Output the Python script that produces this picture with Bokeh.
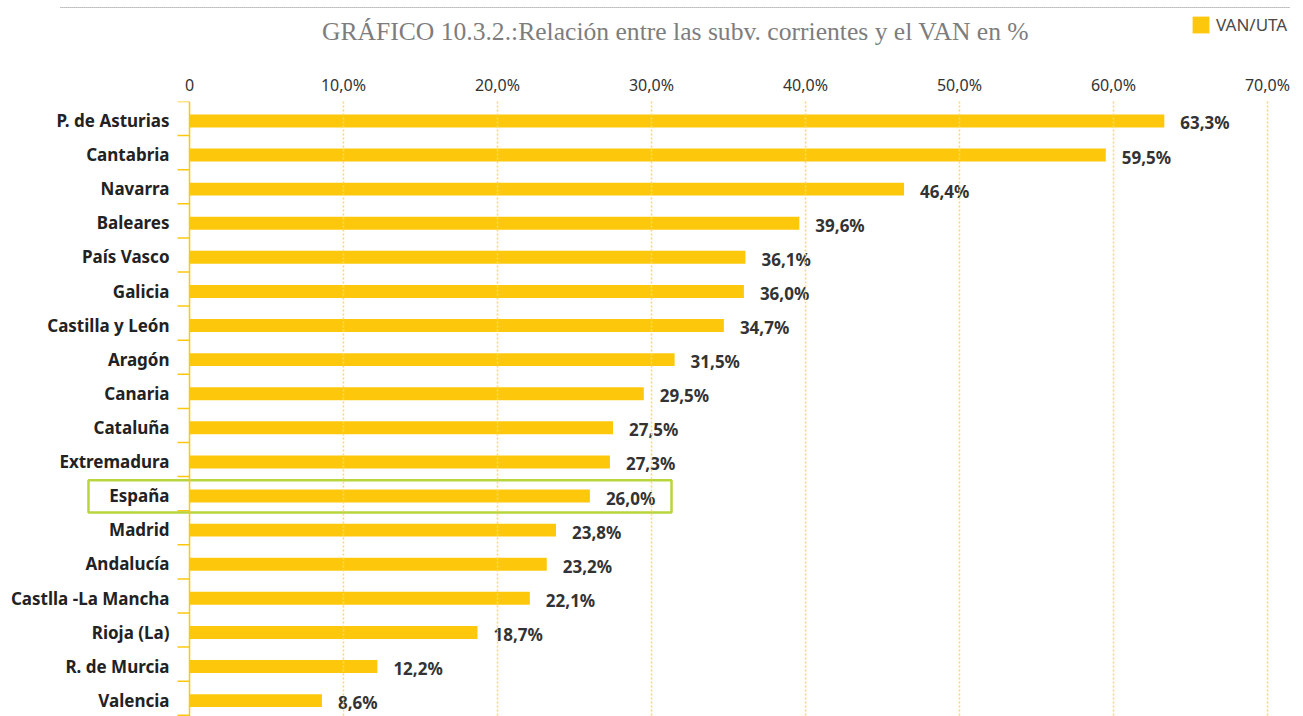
from bokeh.plotting import figure
from bokeh.models import (ColumnDataSource, Range1d, FixedTicker, Span,
                          Legend, LegendItem)
from bokeh.layouts import column
from bokeh.transform import dodge
from bokeh.core.properties import value
from bokeh.embed import file_html
from bokeh.resources import INLINE

# ---- data ----
regions = ["P. de Asturias", "Cantabria", "Navarra", "Baleares", "País Vasco",
           "Galicia", "Castilla y León", "Aragón", "Canaria", "Cataluña",
           "Extremadura", "España", "Madrid", "Andalucía", "Castlla -La Mancha",
           "Rioja (La)", "R. de Murcia", "Valencia"]
values = [63.3, 59.5, 46.4, 39.6, 36.1, 36.0, 34.7, 31.5, 29.5, 27.5,
          27.3, 26.0, 23.8, 23.2, 22.1, 18.7, 12.2, 8.6]
tick_values = [0, 10, 20, 30, 40, 50, 60, 70]
tick_labels = ["0", "10,0%", "20,0%", "30,0%", "40,0%", "50,0%", "60,0%", "70,0%"]
series_name = "VAN/UTA"
highlight = "España"
title_text = "GRÁFICO 10.3.2.:Relación entre las subv. corrientes y el VAN en %"

# ---- styles ----
BAR = "#fdc80c"
GRID = "#fbd95c"
BOX = "#b8d53b"
TXT = "#222222"
FONT = "Noto Sans"
W = 1303
HEAD_H = 60

idx = list(range(len(regions)))
labels = [f"{v:.1f}".replace(".", ",") + "%" for v in values]
src = ColumnDataSource(dict(idx=idx, region=regions, value=values, label=labels))

xr = Range1d(-12.273, 72.338)

# ---------- header: dotted rule, title, legend ----------
head = figure(width=W, height=HEAD_H, output_backend="svg", toolbar_location=None,
              x_range=xr, y_range=Range1d(HEAD_H, 0),
              x_axis_location=None, y_axis_location=None,
              min_border=0, min_border_left=0, min_border_right=0,
              min_border_top=0, min_border_bottom=0)
head.outline_line_color = None
head.xgrid.visible = False
head.ygrid.visible = False

head.segment(x0=-8.38, x1=71.49, y0=7, y1=7, line_color="#8a8a8a",
             line_dash="1 1", line_width=1)
head.text(x=[31.56], y=[31], text=[title_text], text_align="center",
          text_baseline="middle", text_font=value("Liberation Serif"),
          text_font_size="25.6px", text_color="#7d7d7d")

# legend entry for the series (renderer hidden in the header)
legend_r = head.hbar(y="idx", left=0, right="value", height=0.38, source=src,
                     fill_color=BAR, line_color=None, visible=False)
legend = Legend(items=[LegendItem(label=series_name, renderers=[legend_r])],
                location=(1190, 24), glyph_width=21, glyph_height=21,
                label_height=21, label_standoff=5, padding=0, margin=0,
                spacing=0, border_line_color=None, background_fill_alpha=0,
                inactive_fill_alpha=0,
                label_text_font=FONT, label_text_font_size="17px",
                label_text_color="#4a4a4a", label_text_baseline="middle")
head.add_layout(legend)

# ---------- main chart ----------
p = figure(width=W, height=716 - HEAD_H, output_backend="svg", toolbar_location=None,
           x_range=xr, y_range=Range1d(17.535, -0.5),
           x_axis_location="above", y_axis_location=None,
           min_border_left=0, min_border_right=0, min_border_top=101 - HEAD_H,
           min_border_bottom=0)
p.outline_line_color = None
p.background_fill_color = "white"

ax = p.xaxis[0]
ax.ticker = FixedTicker(ticks=tick_values)
ax.major_label_overrides = dict(zip(tick_values, tick_labels))
ax.axis_line_color = None
ax.major_tick_line_color = None
ax.minor_tick_line_color = None
ax.major_label_standoff = 0
ax.major_label_text_font = FONT
ax.major_label_text_font_size = "16px"
ax.major_label_text_color = "#333333"

p.xgrid.ticker = FixedTicker(ticks=tick_values[1:])
p.xgrid.grid_line_color = GRID
p.xgrid.grid_line_dash = "2 2"
p.xgrid.grid_line_width = 1.5
p.xgrid.level = "guide"
p.ygrid.visible = False

bars = p.hbar(y=dodge("idx", 0.07, range=p.y_range), left=0, right="value",
              height=0.38, source=src, fill_color=BAR, line_color=None)

p.add_layout(Span(location=0, dimension="height", line_color=BAR, line_width=1.5))

bounds = [i - 0.5 for i in range(len(regions) + 1)]
p.segment(x0=0, x1=-0.78, y0=bounds, y1=bounds, line_color=BAR, line_width=1.5)

p.text(x=0, y=dodge("idx", 0.06, range=p.y_range), text="region", source=src,
       x_offset=-20, text_align="right", text_baseline="middle",
       text_font=value(FONT), text_font_style="bold", text_font_size="17px",
       text_color=TXT)

p.text(x="value", y=dodge("idx", 0.13, range=p.y_range), text="label", source=src,
       x_offset=16, text_align="left", text_baseline="middle",
       text_font=value(FONT), text_font_style="bold", text_font_size="17px",
       text_color="#333333")

hi = regions.index(highlight)
p.quad(left=-6.56, right=values[hi] + 5.3, top=hi + 0.08 - 0.47,
       bottom=hi + 0.08 + 0.47, fill_color=None, line_color=BOX, line_width=2.5)

layout = column(head, p, spacing=0)
open("out.html", "w").write(file_html(layout, INLINE))
